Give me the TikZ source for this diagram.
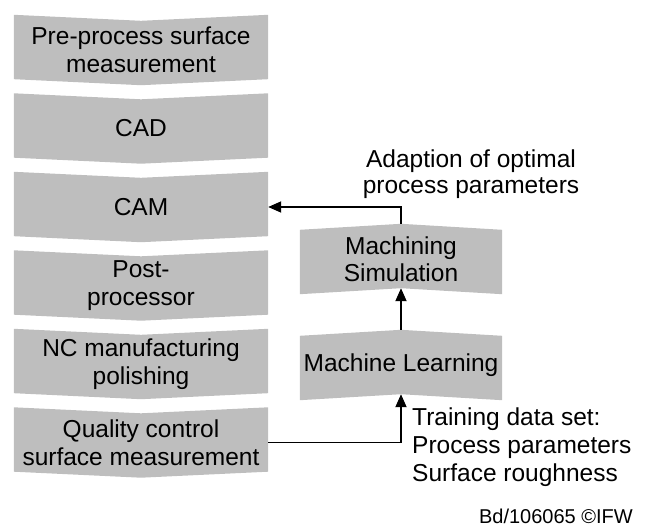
\documentclass[tikz,border=0pt]{standalone}
\usepackage{fontspec}
\setmainfont{Liberation Sans}
\usetikzlibrary{arrows.meta,calc,backgrounds}
\definecolor{boxgray}{RGB}{190,190,190}
\begin{document}
\begin{tikzpicture}[x=1pt,y=-1pt,
  box/.style={inner sep=0pt, align=center, font=\fontsize{24.5}{27.5}\selectfont},
  leftbox/.style={box, minimum width=254pt, minimum height=58pt},
  rightbox/.style={box, minimum width=202pt, minimum height=58pt},
  conn/.style={line width=1.8pt, -{Triangle[length=13pt,width=11pt]}},
  lbl/.style={inner sep=0pt}]
\useasboundingbox (0,0) rectangle (648,530);
\node[leftbox] (pre) at (141,50) {Pre-process surface\\measurement};
\node[leftbox] (cad) at (141,128.5) {CAD};
\node[leftbox] (cam) at (141,207) {CAM};
\node[leftbox] (post) at (141,285.5) {Post-\\processor};
\node[leftbox] (nc) at (141,364) {NC manufacturing\\polishing};
\node[leftbox] (qc) at (141,442.5) {Quality control\\surface measurement};
\node[rightbox] (ms) at (401,259) {Machining\\Simulation};
\node[rightbox] (ml) at (401,365) {Machine Learning};
\begin{scope}[on background layer]
\foreach \n in {pre,cad,cam,post,nc,qc}
  \fill[boxgray] ($(\n.north west)+(0,-6)$) -- (\n.north) -- ($(\n.north east)+(0,-6)$) -- (\n.south east) -- ($(\n.south)+(0,6)$) -- (\n.south west) -- cycle;
\foreach \n in {ms,ml}
  \fill[boxgray] (\n.north west) -- ($(\n.north)+(0,-6)$) -- (\n.north east) -- ($(\n.south east)+(0,6)$) -- (\n.south) -- ($(\n.south west)+(0,6)$) -- cycle;
\end{scope}
\draw[conn] ($(ml.north)+(0,-6)$) -- (ms.south);
\draw[conn] ($(ms.north)+(0,-6)$) |- (cam.east);
\draw[conn] (qc.east) -| (ml.south);
\node[lbl, anchor=base, align=center, font=\fontsize{24.5}{26}\selectfont] (adapt) at (471,193) {Adaption of optimal\\process parameters};
\node[lbl, anchor=base west, align=left, font=\fontsize{24.5}{28}\selectfont] (train) at (412,481) {Training data set:\\Process parameters\\Surface roughness};
\node[lbl, anchor=base east, font=\fontsize{20}{22}\selectfont] (ref) at (633,523) {Bd/106065 ©IFW};
\end{tikzpicture}
\end{document}
